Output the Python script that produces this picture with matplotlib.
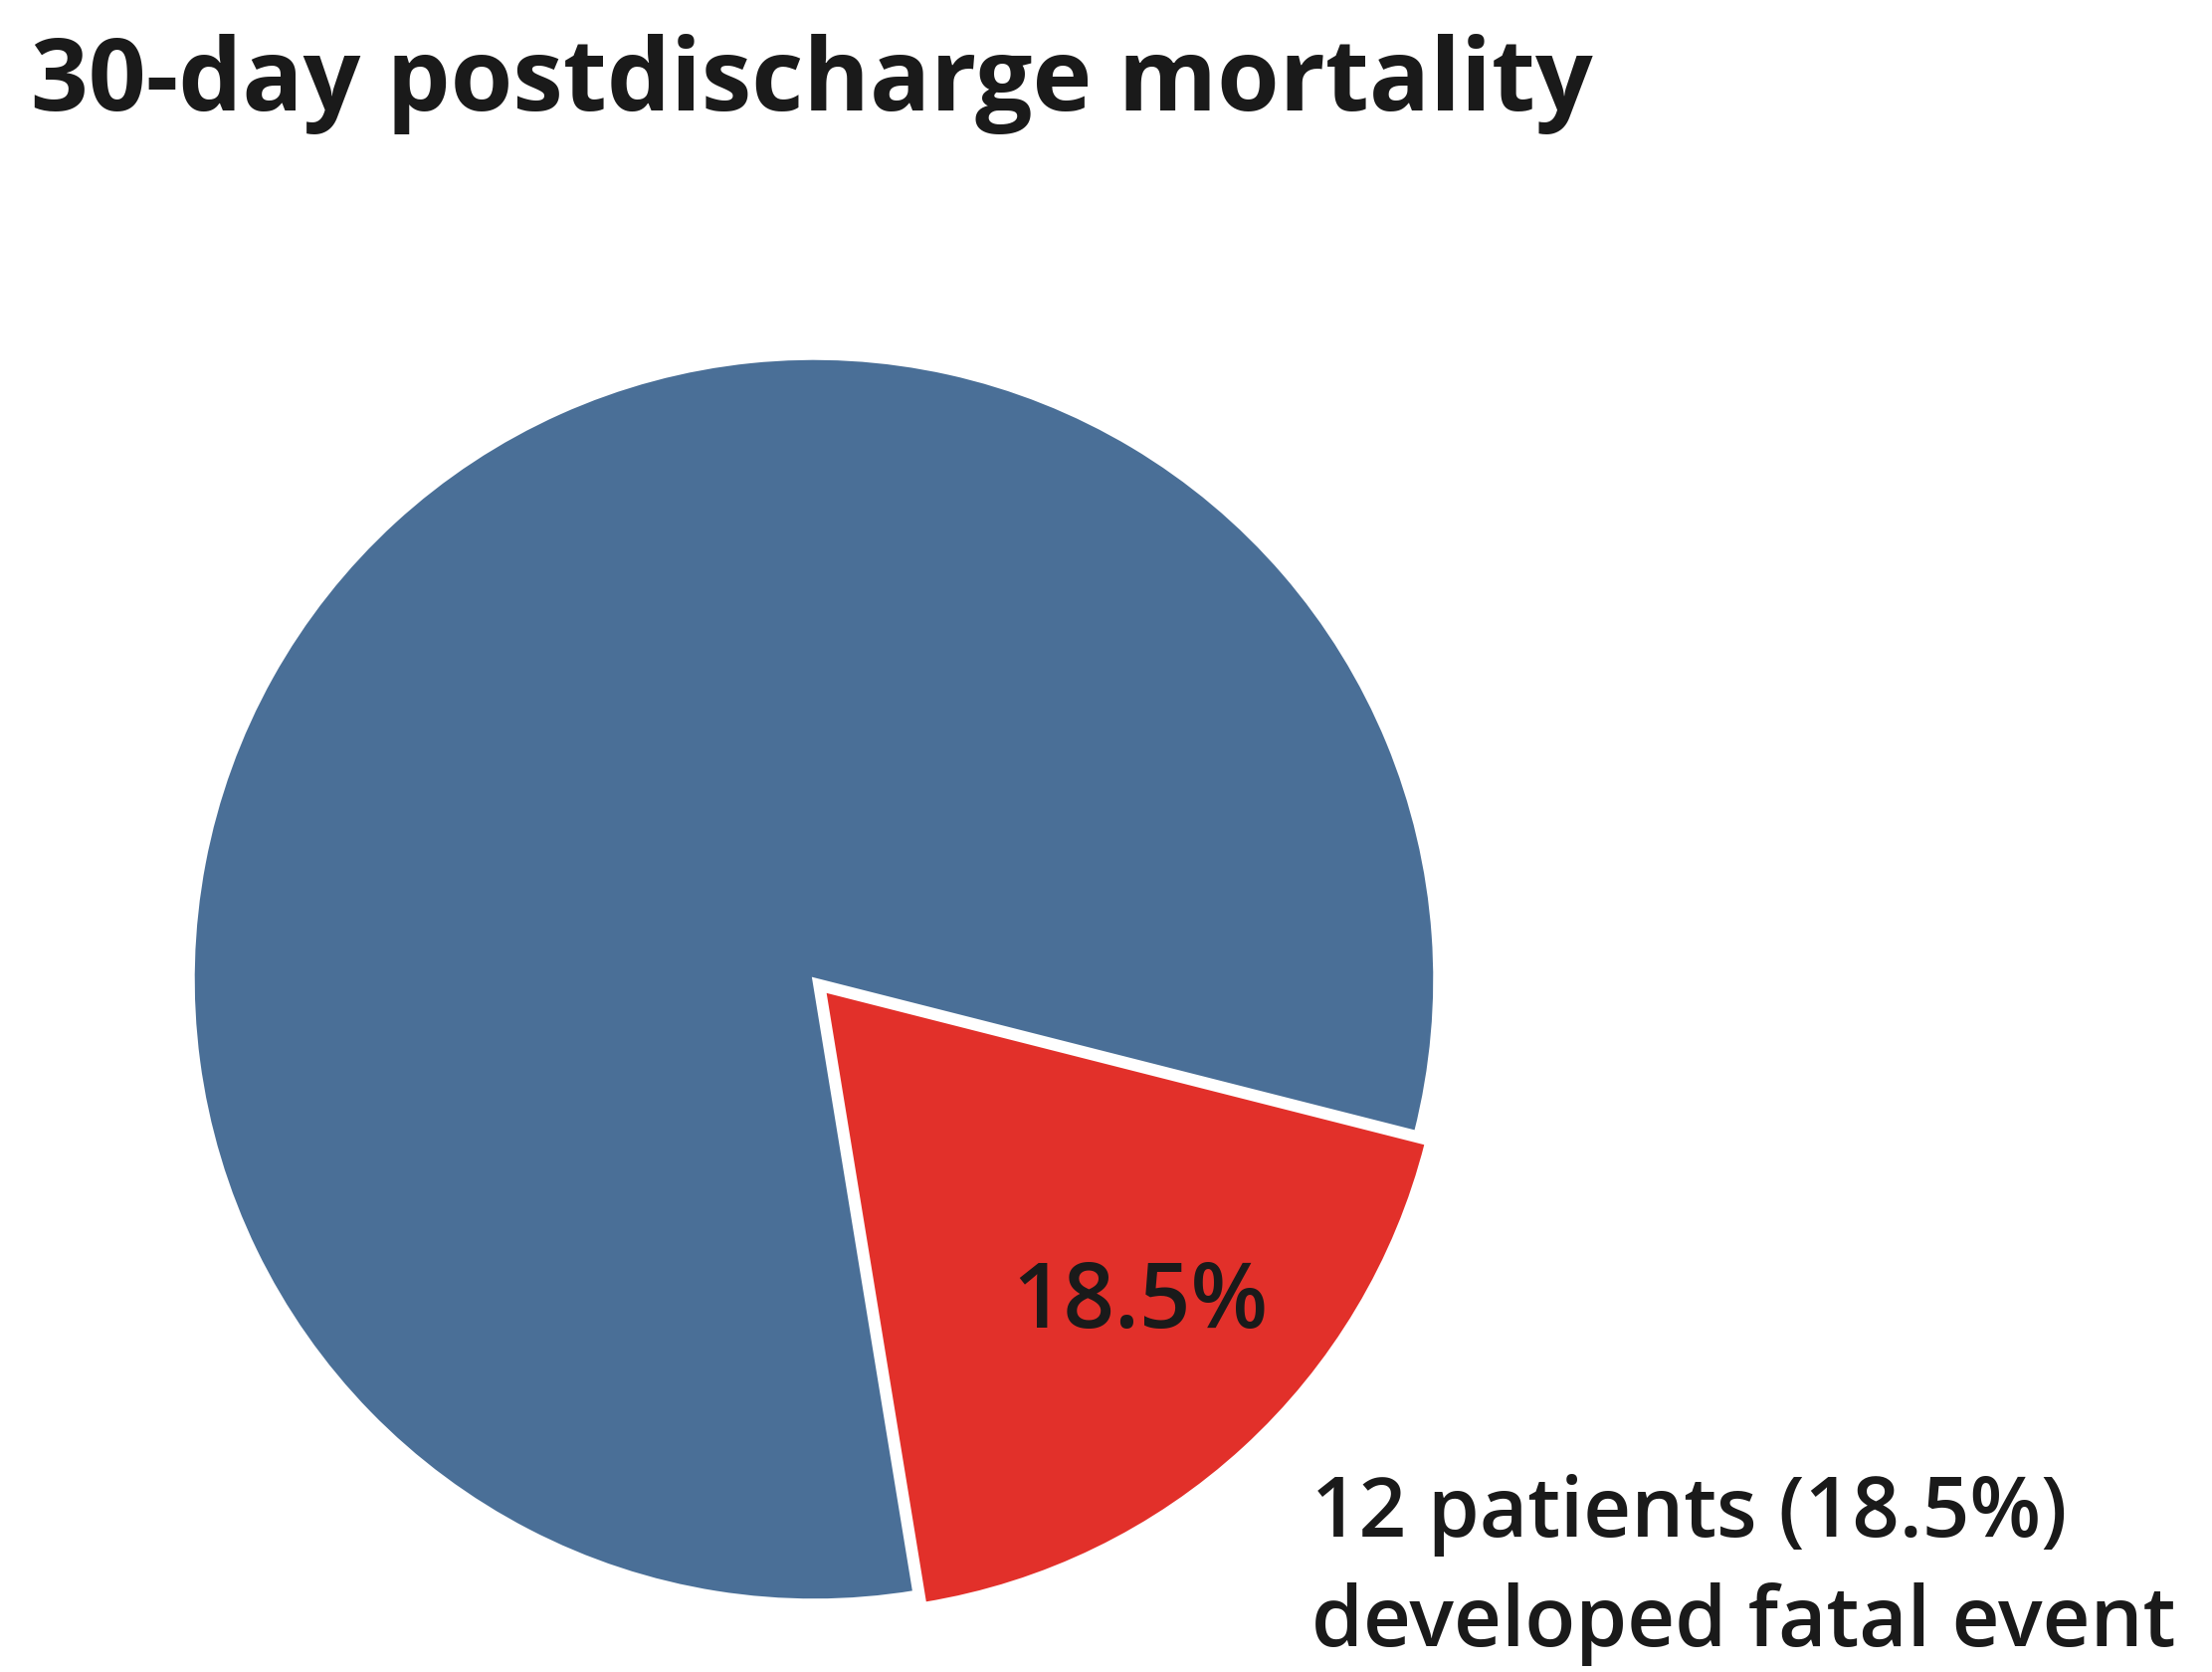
import matplotlib
matplotlib.use("Agg")
import matplotlib.pyplot as plt
import matplotlib.transforms as mtransforms

# Data
labels = ["Fatal event", "Survived"]
patients = [12, 53]
colors = ["#E2302A", "#4A6F97"]
explode = [0.025, 0]

plt.rcParams['font.family'] = ['Open Sans', 'DejaVu Sans']

W, H = 2223, 1681
fig = plt.figure(figsize=(W / 100, H / 100), dpi=100)

# pie centre and radius in pixels
cx, cy, R = 818, 985, 624
lim = 1.1
side = 2 * lim * R
ax = fig.add_axes([(cx - lim * R) / W, (H - cy - lim * R) / H, side / W, side / H])

wedges, texts, autotexts = ax.pie(
    patients, colors=colors, explode=explode, startangle=-80.7,
    autopct='%.1f%%', pctdistance=0.73,
    wedgeprops=dict(edgecolor='white', linewidth=2.5),
    textprops=dict(fontsize=65, fontweight='semibold', color='#1a1a1a'))
autotexts[1].set_visible(False)
for t in texts:
    t.set_visible(False)
# nudge the percentage label a little up and right
autotexts[0].set_transform(mtransforms.offset_copy(ax.transData, fig=fig, x=9, y=22, units='dots'))
ax.set_xlim(-lim, lim)
ax.set_ylim(-lim, lim)
ax.set_aspect('equal')
ax.axis('off')

# Title
fig.text(31 / W, 1 - 111 / H, "30-day postdischarge mortality",
         fontsize=73, fontweight='bold', color='#1a1a1a', va='baseline', ha='left')

# Annotation
fig.text(1318 / W, 1 - 1654 / H, "12 patients (18.5%)\ndeveloped fatal event",
         fontsize=60, fontweight='semibold', color='#1a1a1a', va='baseline', ha='left',
         linespacing=1.4)

fig.savefig("out.png", dpi=100, facecolor='white')
